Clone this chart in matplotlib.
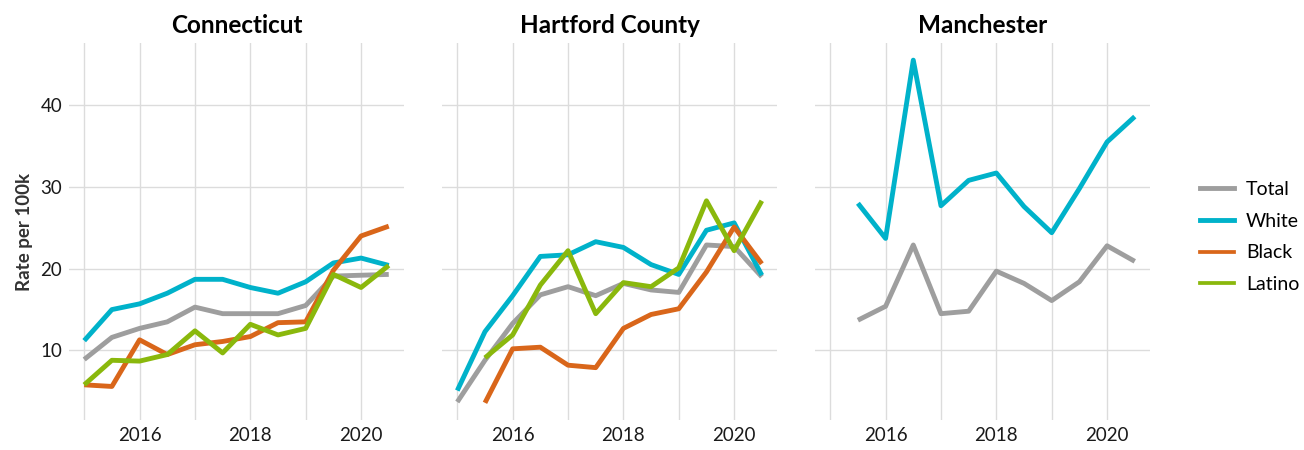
import numpy as np
import matplotlib.pyplot as plt
from matplotlib.lines import Line2D

plt.rcParams['font.family'] = ['Lato', 'DejaVu Sans']

# half-year periods, 2015 to 2020.5
periodos = [2015, 2015.5, 2016, 2016.5, 2017, 2017.5, 2018, 2018.5, 2019, 2019.5, 2020, 2020.5]

regiones = ["Connecticut", "Hartford County", "Manchester"]
grupos = ["Total", "White", "Black", "Latino"]
colores = {"Total": "#9e9e9e", "White": "#00b2ca", "Black": "#d9661a", "Latino": "#8ab80c"}

# Connecticut
ct_total = [8.9, 11.6, 12.7, 13.5, 15.3, 14.5, 14.5, 14.5, 15.5, 19.1, 19.2, 19.3]
ct_white = [11.2, 15.0, 15.7, 17.0, 18.7, 18.7, 17.7, 17.0, 18.4, 20.7, 21.3, 20.4]
ct_black = [5.8, 5.6, 11.3, 9.5, 10.7, 11.1, 11.7, 13.4, 13.5, 19.8, 24.0, 25.2]
ct_latino = [5.8, 8.8, 8.7, 9.5, 12.4, 9.7, 13.2, 11.9, 12.7, 19.3, 17.7, 20.4]

# Hartford County (None = no value)
hc_total = [3.7, 8.8, 13.3, 16.8, 17.8, 16.7, 18.2, 17.4, 17.1, 22.9, 22.7, 19.0]
hc_white = [5.1, 12.3, 16.7, 21.5, 21.7, 23.3, 22.6, 20.5, 19.3, 24.7, 25.6, 19.2]
hc_black = [None, 3.6, 10.2, 10.4, 8.2, 7.9, 12.7, 14.4, 15.1, 19.6, 25.1, 20.6]
hc_latino = [None, 9.1, 11.9, 18.0, 22.2, 14.5, 18.3, 17.8, 20.1, 28.3, 22.2, 28.3]

# Manchester
mc_total = [None, 13.7, 15.4, 22.9, 14.5, 14.8, 19.7, 18.2, 16.1, 18.4, 22.8, 20.9]
mc_white = [None, 28.0, 23.7, 45.5, 27.7, 30.8, 31.7, 27.6, 24.4, 29.8, 35.5, 38.6]

datos = {
    "Connecticut": {"Total": ct_total, "White": ct_white, "Black": ct_black, "Latino": ct_latino},
    "Hartford County": {"Total": hc_total, "White": hc_white, "Black": hc_black, "Latino": hc_latino},
    "Manchester": {"Total": mc_total, "White": mc_white},
}

fig = plt.figure(figsize=(13.04, 4.5), dpi=100)
izquierdas = [0.0529, 0.339, 0.625]
ejes = []
for i, region in enumerate(regiones):
    ax = fig.add_axes([izquierdas[i], 0.0667, 0.2569, 0.8378])
    ejes.append(ax)
    for g in grupos:
        if g not in datos[region]:
            continue
        y = np.array([np.nan if v is None else v for v in datos[region][g]])
        ax.plot(periodos, y, color=colores[g], lw=3.5, solid_capstyle='butt', zorder=3)

    ax.set_xlim(2014.725, 2020.775)
    ax.set_ylim(1.5, 47.6)
    ax.set_xticks([2016, 2018, 2020])
    ax.set_xticks([2015, 2017, 2019], minor=True)
    ax.set_yticks([10, 20, 30, 40])
    ax.grid(True, which='both', color='#dcdcdc', lw=1.0, zorder=0)
    for s in ax.spines.values():
        s.set_visible(False)
    ax.tick_params(which='both', length=0, labelsize=13.5, colors='#1a1a1a', pad=5)
    ax.set_title(region, fontsize=17.5, fontweight='bold', pad=7)
    if i > 0:
        ax.set_yticklabels([])

ejes[0].set_ylabel("Rate per 100k", fontsize=13.5, fontweight='bold', color='#333333', labelpad=5)

manijas = [Line2D([0], [0], color=colores["Total"], lw=3.5),
           Line2D([0], [0], color=colores["White"], lw=3.5),
           Line2D([0], [0], color=colores["Black"], lw=2.7),
           Line2D([0], [0], color=colores["Latino"], lw=2.7)]
fig.legend(manijas, grupos, loc='center left', bbox_to_anchor=(0.907, 0.473),
           frameon=False, fontsize=14, handlelength=1.75, handletextpad=0.6,
           labelspacing=0.75)

fig.savefig("out.png", dpi=100)
